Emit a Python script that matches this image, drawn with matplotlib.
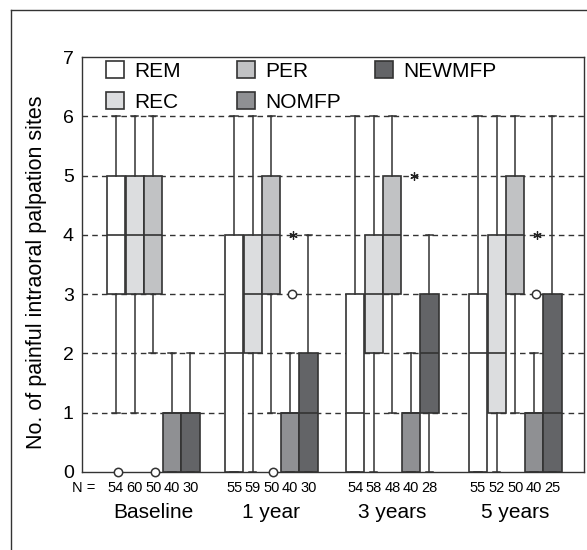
import numpy as np
import matplotlib.pyplot as plt
from matplotlib.patches import Patch
from matplotlib.lines import Line2D

plt.rcParams['font.family'] = ['Liberation Sans', 'DejaVu Sans']

grupos = ["Baseline", "1 year", "3 years", "5 years"]
series = ["REM", "REC", "PER", "NOMFP", "NEWMFP"]
colores = ["#ffffff", "#dcdddf", "#c1c2c4", "#8f9093", "#636467"]

# Cuartiles, medianas y bigotes por grupo (orden: REM, REC, PER, NOMFP, NEWMFP)
q1 = [[3, 3, 3, 0, 0],
      [0, 2, 3, 0, 0],
      [0, 2, 3, 0, 1],
      [0, 1, 3, 0, 0]]
mediana = [[4, 4, 4, 1, 1],
           [2, 3, 4, 1, 1],
           [1, 3, 4, 1, 2],
           [2, 2, 4, 1, 1]]
q3 = [[5, 5, 5, 1, 1],
      [4, 4, 5, 1, 2],
      [3, 4, 5, 1, 3],
      [3, 4, 5, 1, 3]]
bigote_inf = [[1, 1, 2, 0, 0],
              [0, 0, 1, 0, 0],
              [0, 0, 1, 0, 0],
              [0, 0, 1, 0, 0]]
bigote_sup = [[6, 6, 6, 2, 2],
              [6, 6, 6, 2, 4],
              [6, 6, 6, 2, 4],
              [6, 6, 6, 2, 6]]

# Valores atipicos (circulos) y extremos (asteriscos): (grupo, serie, valor)
atipicos = [(0, 0, 0), (0, 2, 0), (1, 2, 0), (1, 3, 3), (3, 3, 3)]
extremos = [(1, 3, 4), (2, 3, 5), (3, 3, 4)]

n_casos = [[54, 60, 50, 40, 30],
           [55, 59, 50, 40, 30],
           [54, 58, 48, 40, 28],
           [55, 52, 50, 40, 25]]

inicio_grupo = [1.83, 8.18, 14.69, 21.30]
borde = "#333333"
W, H = 587, 550

fig = plt.figure(figsize=(W / 100, H / 100), dpi=100)
ax = fig.add_axes([82 / W, 1 - 472 / H, 502 / W, 415 / H])

# Lineas horizontales discontinuas
for y in range(1, 7):
    ax.axhline(y, color=borde, lw=1.0, ls=(0, (4, 3)), zorder=0)

stats, posiciones, caras = [], [], []
for g in range(len(grupos)):
    for s in range(len(series)):
        stats.append(dict(med=mediana[g][s], q1=q1[g][s], q3=q3[g][s],
                          whislo=bigote_inf[g][s], whishi=bigote_sup[g][s],
                          fliers=[]))
        posiciones.append(inicio_grupo[g] + s)
        caras.append(colores[s])

cajas = ax.bxp(stats, positions=posiciones, widths=0.98, patch_artist=True,
               showfliers=False, capwidths=0.4,
               boxprops=dict(edgecolor=borde, linewidth=1.2),
               medianprops=dict(color=borde, linewidth=1.2),
               whiskerprops=dict(color=borde, linewidth=1.1),
               capprops=dict(color=borde, linewidth=1.1))
for caja, c in zip(cajas['boxes'], caras):
    caja.set_facecolor(c)
    caja.set_zorder(2)

for g, s, v in atipicos:
    ax.plot(inicio_grupo[g] + s + 0.1, v, 'o', mfc='white', mec=borde,
            ms=6, mew=1.1, zorder=4, clip_on=False)
for g, s, v in extremos:
    ax.plot(inicio_grupo[g] + s + 0.15, v, marker=(6, 2, 0), color='#222222',
            ms=6, mew=0.9, ls='none', zorder=4)

ax.set_xlim(0, 27)
ax.set_ylim(0, 7)
ax.set_yticks(range(0, 8))
ax.set_xticks([])
ax.tick_params(axis='y', length=0, pad=6, labelsize=14)
for sp in ax.spines.values():
    sp.set_color(borde)
    sp.set_linewidth(1.0)
ax.set_ylabel("No. of painful intraoral palpation sites", fontsize=15.5)
ax.yaxis.set_label_coords(-0.07, 0.482)

# Tamano de muestra y nombres de grupo debajo del eje
trans = ax.get_xaxis_transform()
ax.text(0.1, -0.038, "N =", transform=trans, ha='center', va='center',
        fontsize=10.5)
for g in range(len(grupos)):
    for s in range(len(series)):
        ax.text(inicio_grupo[g] + s, -0.038, str(n_casos[g][s]),
                transform=trans, ha='center', va='center', fontsize=10.5)
    ax.text(inicio_grupo[g] + 2, -0.097, grupos[g], transform=trans,
            ha='center', va='center', fontsize=15)

# Leyenda en tres columnas de ancho fijo
columnas = [[0, 1], [2, 3], [4]]
x_columna = [106, 237, 375]
for idx, x0 in zip(columnas, x_columna):
    manejadores = [Patch(facecolor=colores[i], edgecolor=borde, lw=1.2)
                   for i in idx]
    fig.legend(manejadores, [series[i] for i in idx], loc='upper left',
               bbox_to_anchor=(x0 / W, 1 - 61 / H), frameon=False,
               fontsize=15, handlelength=0.85, handleheight=0.85,
               handletextpad=0.5, labelspacing=0.55, borderpad=0,
               borderaxespad=0)

# Marco exterior de la figura
fig.add_artist(Line2D([11 / W, 11 / W], [0, 1 - 10 / H], color=borde, lw=1.0))
fig.add_artist(Line2D([11 / W, 1], [1 - 10 / H, 1 - 10 / H], color=borde,
                      lw=1.0))

fig.savefig("out.png", dpi=100)
